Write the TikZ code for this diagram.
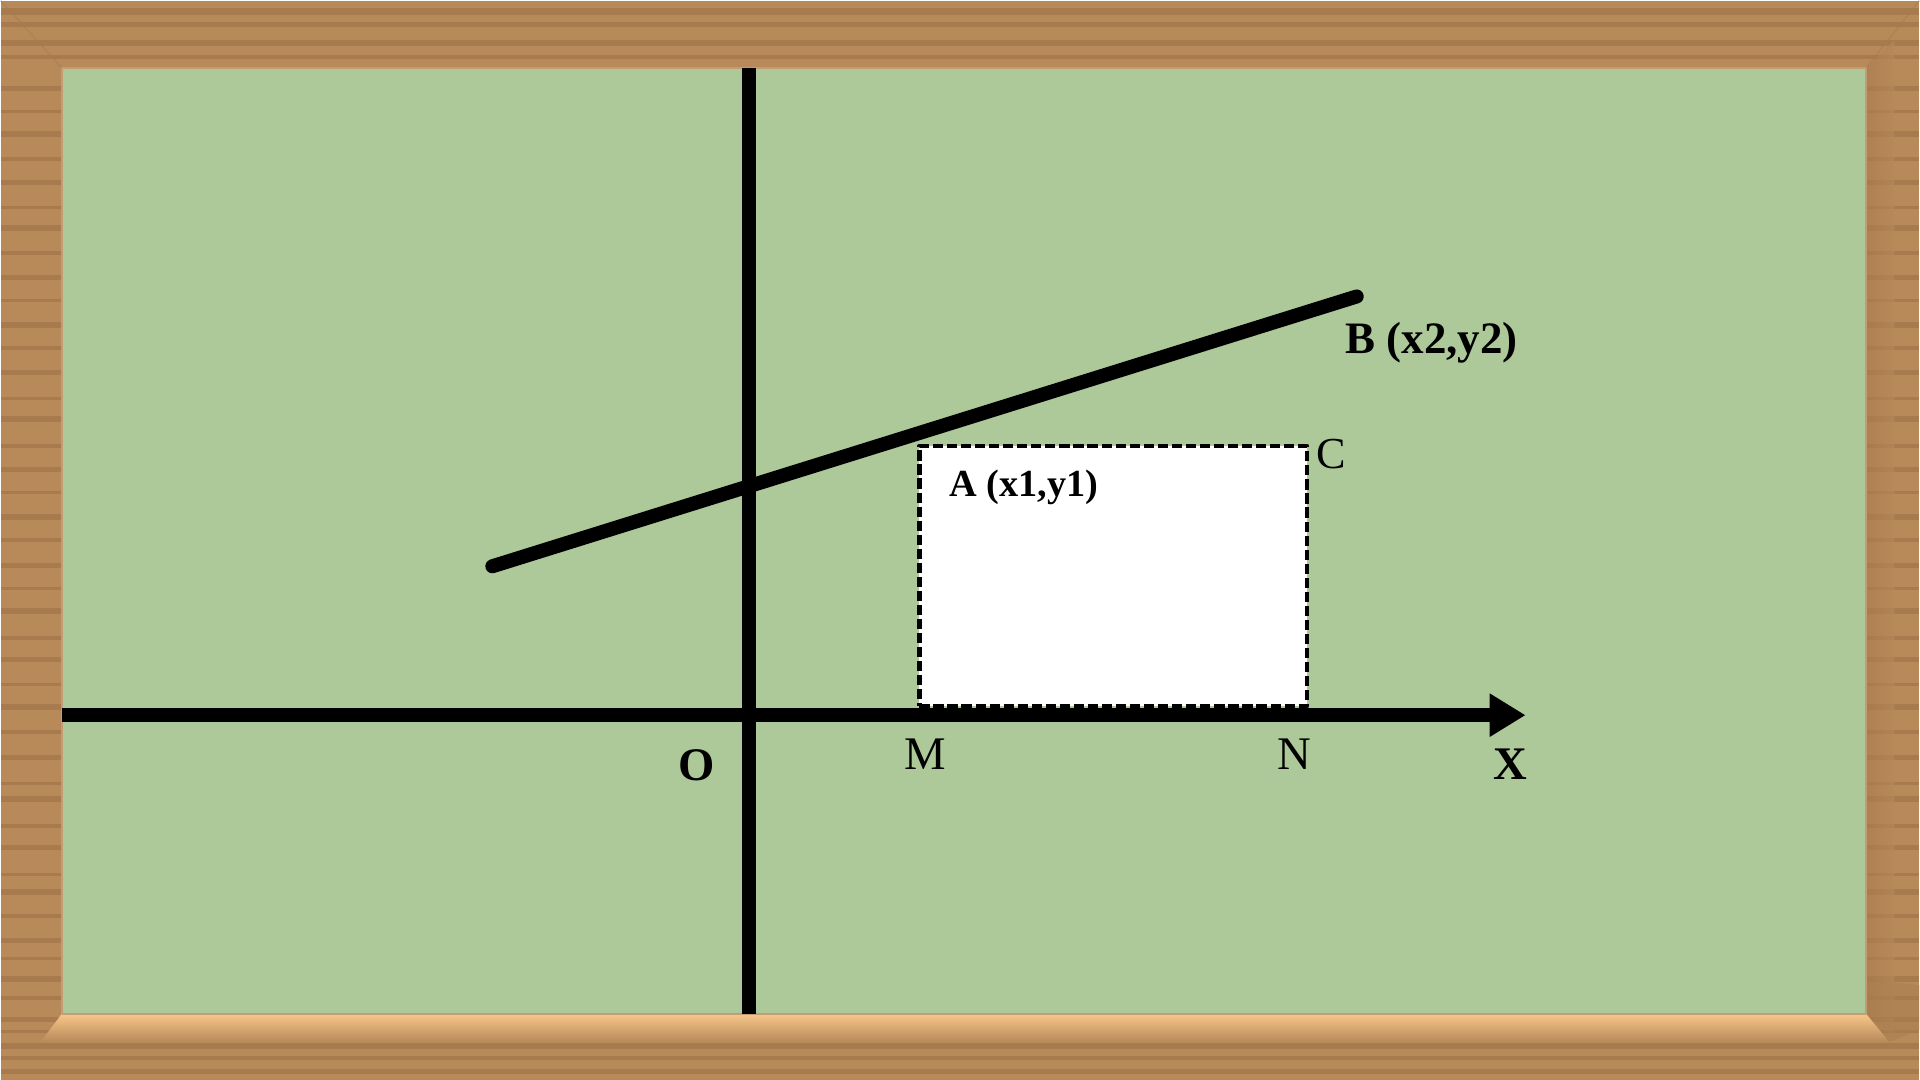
\documentclass[tikz,border=0pt]{standalone}
\usepackage{fontspec}
\setmainfont{Liberation Serif}
\usetikzlibrary{arrows.meta}
\definecolor{board}{HTML}{ADC99A}
\definecolor{wood}{HTML}{B88A5A}
\definecolor{wooddark}{HTML}{A87B4F}
\definecolor{woodlight}{HTML}{F7C68A}

\begin{document}
\begin{tikzpicture}[line join=round]
		\tikzstyle{axis}=[line width=3.8pt,black]
		\tikzstyle{graph}=[line width=4pt,line cap=round,black]
		\tikzstyle{box}=[draw,fill=white,line width=1.3pt,dash pattern=on 2.9pt off 1.1pt,inner sep=0pt]
		\tikzstyle{lbl}=[anchor=base,inner sep=0pt,font=\fontsize{13.3}{16}\selectfont]
		% wooden frame
		\fill[wood] (0,0) rectangle (19.2,10.8);
		\foreach \y/\h in {0.06/0.05,0.2/0.04,0.31/0.06,0.47/0.03,0.58/0.05,0.8/0.04,0.98/0.06,1.2/0.03,1.37/0.05,
			1.62/0.04,1.85/0.06,2.04/0.03,2.3/0.05,2.52/0.04,2.78/0.06,2.95/0.03,3.2/0.05,3.46/0.04,3.7/0.06,
			3.94/0.03,4.18/0.05,4.4/0.04,4.66/0.06,4.9/0.03,5.12/0.05,5.38/0.04,5.6/0.06,5.86/0.03,6.08/0.05,
			6.32/0.04,6.58/0.06,6.8/0.03,7.05/0.05,7.3/0.04,7.52/0.06,7.78/0.03,8.0/0.05,8.26/0.04,8.5/0.06,
			8.72/0.03,8.96/0.05,9.2/0.04,9.44/0.06,9.68/0.03,9.9/0.05,10.22/0.04,10.35/0.06,10.54/0.05,10.66/0.07}
			\fill[wooddark] (0,\y) rectangle (19.2,\y+\h);
		\draw[wooddark,opacity=.5] (0,10.8) -- (0.61,10.13) (19.2,10.8) -- (18.67,10.13);
		\shade[left color=wooddark,right color=wood,opacity=.6] (18.67,0.66) -- (18.67,10.13) -- (18.95,10.4) -- (18.95,0.4) -- cycle;
		\shade[top color=woodlight,bottom color=wood] (0.4,0.38) -- (0.61,0.66) -- (18.67,0.66) -- (18.9,0.38) -- cycle;
		\fill[wooddark,opacity=.45] (18.67,0.66) -- (18.67,1.0) -- (19.2,0.95) -- (19.2,0.5) -- (18.9,0.38) -- cycle;
		% board
		\fill[board] (0.61,0.66) rectangle (18.67,10.13);
		\draw[wood!85!white,line width=0.6pt] (0.61,0.66) rectangle (18.67,10.13);
		\coordinate (top) at (7.49,10.13);
		\coordinate (bot) at (7.49,0.66);
		\coordinate (west) at (0.61,3.65);
		\coordinate (east) at (15.26,3.65);
		\coordinate (L) at (4.92,5.14);
		\coordinate (R) at (13.57,7.84);
		\node[box,minimum width=3.88cm,minimum height=2.6cm,anchor=south west] (rect) at (9.17,3.72) {};
		\draw[axis] (top) -- (bot);
		\draw[axis,-{Triangle[length=3.6mm,width=4.1mm]}] (west) -- (east);
		\draw[graph] (L) -- (R);
		\node[lbl] (O) at (6.96,3.00) {\textbf{O}};
		\node[lbl] (M) at (9.25,3.11) {M};
		\node[lbl] (N) at (12.95,3.11) {N};
		\node[lbl] (X) at (15.11,3.01) {\textbf{X}};
		\node[lbl,font=\fontsize{12.8}{15}\selectfont] (B) at (14.32,7.27) {\textbf{B (x2,y2)}};
		\node[lbl,anchor=base west,font=\fontsize{10.9}{13}\selectfont] (A) at (9.49,5.84) {\textbf{A (x1,y1)}};
		\node[lbl,anchor=base west,font=\fontsize{12.6}{15}\selectfont] (C) at (13.16,6.12) {C};
\end{tikzpicture}
\end{document}
